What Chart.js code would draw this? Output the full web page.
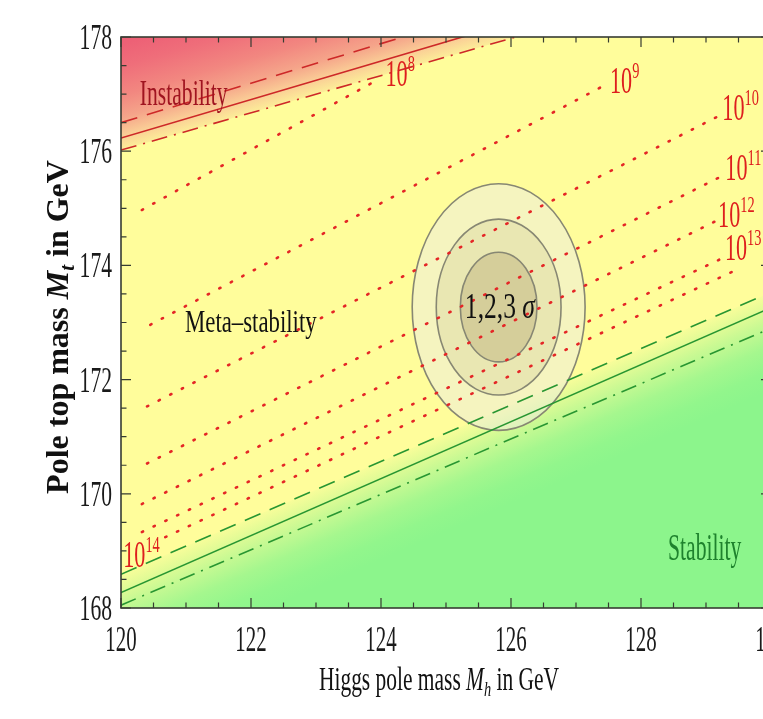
<!DOCTYPE html>
<html>
<head>
<meta charset="utf-8">
<title>SM vacuum stability</title>
<script src="https://cdn.jsdelivr.net/npm/chart.js@4.4.1/dist/chart.umd.min.js"></script>
<style>
  html, body { margin: 0; padding: 0; overflow: hidden; background: #fff; }
  #wrap { position: relative; width: 800px; height: 719px; }
</style>
</head>
<body>
<div id="wrap"><canvas id="stab"></canvas></div>
<script>
// axes
var mhRange = [120, 130];
var mtRange = [168, 178];
var mhTicks = [120, 122, 124, 126, 128, 130];
var mtTicks = [168, 170, 172, 174, 176, 178];
var minorStep = 0.5;

// instability boundary: central, and the two alpha_s variations (Mt at Mh = 120 / 130)
var boundMh = [120, 130];
var instabMt = [176.23, 179.60];
var instabUpMt = [176.50, 179.96];
var instabLoMt = [176.02, 179.28];

// absolute stability boundary
var stabMt = [168.27, 173.26];
var stabUpMt = [168.59, 173.53];
var stabLoMt = [168.05, 172.90];

// instability scale contours, Lambda = 10^n GeV (start / end of each dotted line)
var lambdaExp = [8, 9, 10, 11, 12, 13, 14];
var lambdaMh = [
  [120.32, 123.93], [120.45, 127.40], [120.40, 129.22], [120.40, 129.22],
  [120.32, 129.14], [120.32, 129.26], [120.68, 129.52]
];
var lambdaMt = [
  [174.97, 177.24], [172.96, 177.13], [171.53, 176.63], [170.53, 175.55],
  [169.82, 174.77], [169.33, 174.13], [169.24, 173.95]
];

// measured point with 1,2,3 sigma contours (half widths in GeV)
var mhCentral = 125.81;
var mtCentral = 173.27;
var sigmaMh = [0.59, 0.96, 1.33];
var sigmaMt = [0.96, 1.54, 2.16];

// ---- styles ----
var SERIF = "'Liberation Serif', 'Times New Roman', serif";
var bgYellow = 'rgb(255,253,155)';
var lineRed = 'rgb(205,40,40)';
var dotRed = 'rgb(228,38,38)';
var lineGreen = 'rgb(40,150,50)';
var frameColor = 'rgb(55,60,50)';

// label offsets (px) from the end of each dotted line; the last one sits at its start
var lambdaLabelOffset = [[9, 6], [8, 6], [2, 5], [5, 3], [3, 6], [2, 2], [-42, 30]];

var regionText = [
  { parts: [['Instability', 36, '']], mh: 120.29, mt: 176.81, color: 'rgb(160,20,32)', squeeze: 0.6 },
  { parts: [['Meta\u2013stability', 31, '']], mh: 120.985, mt: 172.834, color: '#111', squeeze: 0.735 },
  { parts: [['Stability', 37, '']], mh: 128.415, mt: 168.84, color: 'rgb(30,130,45)', squeeze: 0.585 },
  { parts: [['1,2,3 ', 36, ''], ['\u03c3', 36, 'italic ']], mh: 125.29, mt: 173.079, color: '#111', squeeze: 0.71 }
];

function pts(xs, ys) {
  return xs.map(function (x, i) { return { x: x, y: ys[i] }; });
}

// linear gradient running across a straight boundary line;
// shift moves its start along the normal (px), length is the fade distance
function bandGradient(chart, ys, toward, shift, length, stops) {
  if (!chart.chartArea) return 'transparent';
  var sx = chart.scales.x, sy = chart.scales.y;
  var x0 = sx.getPixelForValue(boundMh[0]), y0 = sy.getPixelForValue(ys[0]);
  var x1 = sx.getPixelForValue(boundMh[1]), y1 = sy.getPixelForValue(ys[1]);
  var dx = x1 - x0, dy = y1 - y0, n = Math.hypot(dx, dy);
  var nx = dy / n * toward, ny = -dx / n * toward;
  var gx = x0 + nx * shift, gy = y0 + ny * shift;
  var g = chart.ctx.createLinearGradient(gx, gy, gx + nx * length, gy + ny * length);
  stops.forEach(function (s) { g.addColorStop(s[0], s[1]); });
  return g;
}

var redStops = [
  [0, 'rgb(255,253,155)'], [0.07, 'rgb(252,238,152)'], [0.2, 'rgb(250,205,150)'],
  [0.35, 'rgb(245,165,138)'], [0.55, 'rgb(242,135,128)'], [0.8, 'rgb(239,110,122)'], [1, 'rgb(237,97,118)']
];
var greenStops = [
  [0, 'rgb(248,253,154)'], [0.15, 'rgb(225,251,150)'], [0.3, 'rgb(200,249,147)'],
  [0.55, 'rgb(165,247,142)'], [0.8, 'rgb(146,246,140)'], [1, 'rgb(140,245,140)']
];

function lineSet(ys, color, dash, extra) {
  var d = {
    data: pts(boundMh, ys), borderColor: color, borderWidth: 1.6,
    borderDash: dash, fill: false, order: 2
  };
  for (var k in extra) d[k] = extra[k];
  return d;
}

var datasets = [
  lineSet(instabLoMt, lineRed, [16, 7, 2, 7], {
    fill: 'end',
    backgroundColor: function (c) { return bandGradient(c.chart, instabLoMt, 1, -8, 110, redStops); }
  }),
  lineSet(instabMt, lineRed, []),
  lineSet(instabUpMt, lineRed, [17, 10]),
  lineSet(stabUpMt, lineGreen, [17, 10], {
    fill: 'start',
    backgroundColor: function (c) { return bandGradient(c.chart, stabUpMt, -1, 0, 90, greenStops); }
  }),
  lineSet(stabMt, lineGreen, []),
  lineSet(stabLoMt, lineGreen, [16, 7, 2, 7])
];

lambdaExp.forEach(function (e, i) {
  datasets.push({
    data: pts(lambdaMh[i], lambdaMt[i]), borderColor: dotRed, borderWidth: 2.6,
    borderDash: [1.4, 11.6], borderCapStyle: 'round', fill: false, order: 1
  });
});

// draws text made of styled pieces, squeezed horizontally
function drawRich(ctx, parts, x, y, o) {
  var w = 0;
  ctx.save();
  parts.forEach(function (p) { ctx.font = (p[2] || '') + p[1] + 'px ' + SERIF; w += ctx.measureText(p[0]).width; });
  ctx.translate(x, y);
  if (o.rotate) ctx.rotate(o.rotate);
  ctx.scale(o.squeeze || 1, 1);
  var cx = o.align === 'center' ? -w / 2 : (o.align === 'right' ? -w : 0);
  ctx.fillStyle = o.color || '#111';
  ctx.textAlign = 'left';
  ctx.textBaseline = 'alphabetic';
  parts.forEach(function (p) {
    ctx.font = (p[2] || '') + p[1] + 'px ' + SERIF;
    ctx.fillText(p[0], cx, -(p[3] || 0));
    cx += ctx.measureText(p[0]).width;
  });
  ctx.restore();
}

function isMajor(v, list) {
  return list.some(function (m) { return Math.abs(m - v) < 1e-6; });
}

var framePlugin = {
  id: 'frame',
  beforeDraw: function (chart) {
    var a = chart.chartArea, ctx = chart.ctx;
    ctx.save();
    ctx.fillStyle = bgYellow;
    ctx.fillRect(a.left, a.top, a.right - a.left, a.bottom - a.top);
    ctx.restore();
  },
  beforeDatasetsDraw: function (chart) {
    var a = chart.chartArea, ctx = chart.ctx, sx = chart.scales.x, sy = chart.scales.y;
    var cx = sx.getPixelForValue(mhCentral), cy = sy.getPixelForValue(mtCentral);
    // inner contour darkest, outer one a pale veil
    var fills = ['rgba(170,150,100,0.3)', 'rgba(200,190,140,0.25)', 'rgba(235,235,228,0.5)'];
    ctx.save();
    ctx.beginPath();
    ctx.rect(a.left, a.top, a.right - a.left, a.bottom - a.top);
    ctx.clip();
    for (var i = sigmaMh.length - 1; i >= 0; i--) {
      var rx = Math.abs(sx.getPixelForValue(mhCentral + sigmaMh[i]) - cx);
      var ry = Math.abs(sy.getPixelForValue(mtCentral + sigmaMt[i]) - cy);
      ctx.beginPath();
      ctx.ellipse(cx, cy, rx, ry, 0, 0, Math.PI * 2);
      ctx.fillStyle = fills[i];
      ctx.fill();
      ctx.lineWidth = 1.6;
      ctx.strokeStyle = 'rgb(135,135,115)';
      ctx.stroke();
    }
    ctx.restore();
  },
  afterDatasetsDraw: function (chart) {
    var ctx = chart.ctx, sx = chart.scales.x, sy = chart.scales.y;
    regionText.forEach(function (t) {
      drawRich(ctx, t.parts, sx.getPixelForValue(t.mh), sy.getPixelForValue(t.mt), { squeeze: t.squeeze, color: t.color });
    });
    lambdaExp.forEach(function (e, i) {
      var j = i === lambdaExp.length - 1 ? 0 : 1;
      var x = sx.getPixelForValue(lambdaMh[i][j]) + lambdaLabelOffset[i][0];
      var y = sy.getPixelForValue(lambdaMt[i][j]) + lambdaLabelOffset[i][1];
      drawRich(ctx, [['10', 37, ''], [String(e), 24, '', 15]], x, y, { squeeze: 0.6, color: 'rgb(222,30,30)' });
    });
  },
  afterDraw: function (chart) {
    var a = chart.chartArea, ctx = chart.ctx, sx = chart.scales.x, sy = chart.scales.y;
    ctx.save();
    ctx.strokeStyle = frameColor;
    ctx.lineWidth = 1.6;
    ctx.strokeRect(a.left, a.top, a.right - a.left, a.bottom - a.top);
    ctx.lineWidth = 1.2;
    ctx.beginPath();
    sx.ticks.forEach(function (t) {
      var px = sx.getPixelForValue(t.value), len = isMajor(t.value, mhTicks) ? 10 : 5.5;
      ctx.moveTo(px, a.bottom); ctx.lineTo(px, a.bottom - len);
      ctx.moveTo(px, a.top); ctx.lineTo(px, a.top + len);
    });
    sy.ticks.forEach(function (t) {
      var py = sy.getPixelForValue(t.value), len = isMajor(t.value, mtTicks) ? 10 : 5.5;
      ctx.moveTo(a.left, py); ctx.lineTo(a.left + len, py);
      ctx.moveTo(a.right, py); ctx.lineTo(a.right - len, py);
    });
    ctx.stroke();
    ctx.restore();

    sx.ticks.forEach(function (t) {
      if (!isMajor(t.value, mhTicks)) return;
      drawRich(ctx, [[String(t.value), 36, '']], sx.getPixelForValue(t.value), a.bottom + 43,
        { squeeze: 0.58, align: 'center', color: '#1a1a1a' });
    });
    sy.ticks.forEach(function (t) {
      if (!isMajor(t.value, mtTicks)) return;
      drawRich(ctx, [[String(t.value), 36, '']], a.left - 9, sy.getPixelForValue(t.value) + 12,
        { squeeze: 0.6, align: 'right', color: '#1a1a1a' });
    });

    // axis titles
    drawRich(ctx, [['Higgs pole mass ', 33, ''], ['M', 33, 'italic '], ['h', 22, 'italic ', -6], [' in GeV', 33, '']],
      439, 690, { squeeze: 0.65, align: 'center', color: '#111' });
    drawRich(ctx, [['Pole top mass ', 32, 'bold '], ['M', 32, 'italic bold '], ['t', 21, 'italic bold ', -6], [' in GeV', 32, 'bold ']],
      68, 327, { rotate: -Math.PI / 2, align: 'center', color: '#111' });
  }
};

new Chart(document.getElementById('stab'), {
  type: 'line',
  data: { datasets: datasets },
  options: {
    responsive: true,
    maintainAspectRatio: false,
    animation: false,
    events: [],
    layout: { padding: { left: 0, top: 37, right: 29, bottom: 0 } },
    elements: { point: { radius: 0 }, line: { tension: 0 } },
    plugins: {
      legend: { display: false },
      tooltip: { enabled: false },
      filler: { drawTime: 'beforeDatasetsDraw' }
    },
    scales: {
      x: {
        type: 'linear', min: mhRange[0], max: mhRange[1],
        ticks: { display: false, stepSize: minorStep, maxTicksLimit: 100 },
        grid: { display: false }, border: { display: false },
        afterFit: function (s) { s.height = 111; }
      },
      y: {
        type: 'linear', min: mtRange[0], max: mtRange[1],
        ticks: { display: false, stepSize: minorStep, maxTicksLimit: 100 },
        grid: { display: false }, border: { display: false },
        afterFit: function (s) { s.width = 121; }
      }
    }
  },
  plugins: [framePlugin]
});
</script>
</body>
</html>
